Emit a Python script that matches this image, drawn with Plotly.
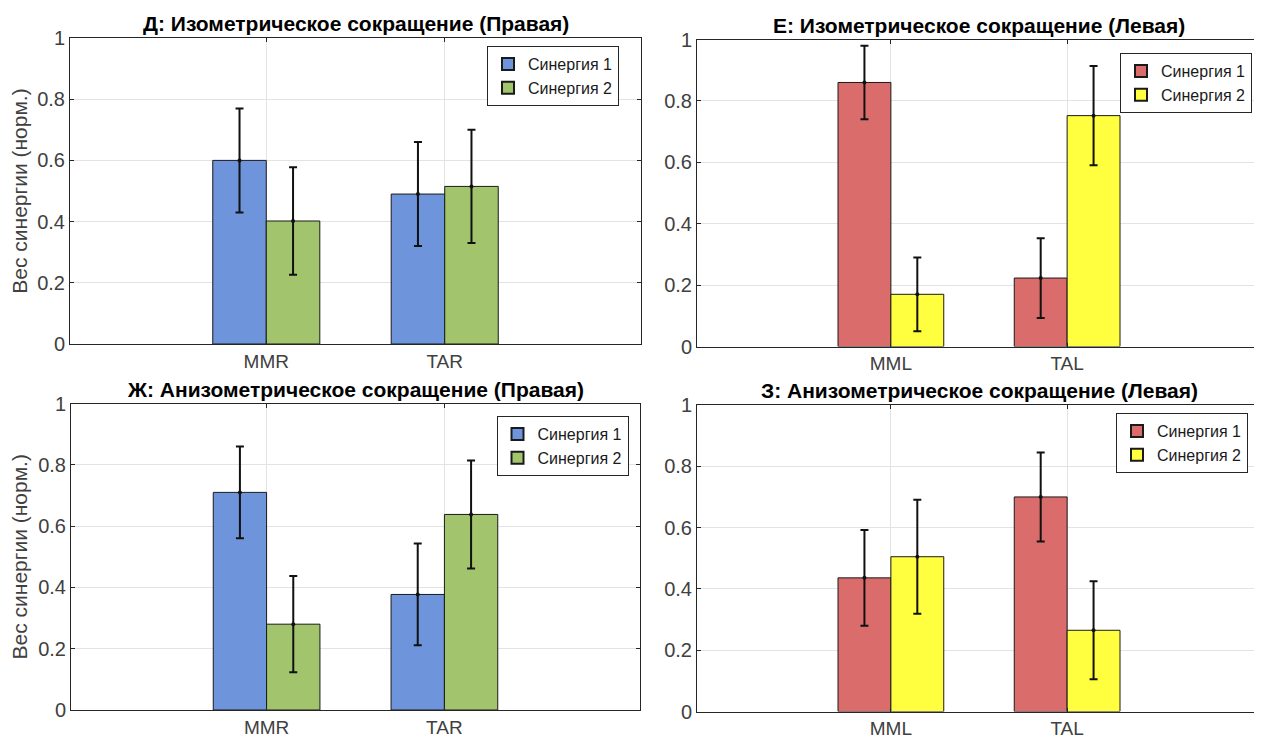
import plotly.graph_objects as go

# ---- data ----
cats_right = ["MMR", "TAR"]
cats_left = ["MML", "TAL"]
series_names = ["Синергия 1", "Синергия 2"]

titles = [
    "Д: Изометрическое сокращение (Правая)",
    "Е: Изометрическое сокращение (Левая)",
    "Ж: Анизометрическое сокращение (Правая)",
    "З: Анизометрическое сокращение (Левая)",
]

# panel Д
d_s1 = [0.600, 0.490]
d_s1_err = [0.170, 0.170]
d_s2 = [0.402, 0.515]
d_s2_err = [0.176, 0.185]
# panel Е
e_s1 = [0.860, 0.223]
e_s1_err = [0.120, 0.130]
e_s2 = [0.170, 0.752]
e_s2_err = [0.120, 0.162]
# panel Ж
zh_s1 = [0.710, 0.377]
zh_s1_err = [0.150, 0.166]
zh_s2 = [0.280, 0.638]
zh_s2_err = [0.157, 0.176]
# panel З
z_s1 = [0.436, 0.700]
z_s1_err = [0.156, 0.145]
z_s2 = [0.505, 0.265]
z_s2_err = [0.186, 0.160]

y_label = "Вес синергии (норм.)"

blue, green = "rgb(110,148,220)", "rgb(161,196,108)"
red, yellow = "rgb(218,108,108)", "rgb(255,255,64)"

# figure size compensating the 8px page margin
OFF = 8
W, H = 1262 - OFF, 740 - OFF


def xdom(a, b):
    return [(a - OFF) / W, (b - OFF) / W]


def ydom(top, bottom):
    return [1 - (bottom - OFF) / H, 1 - (top - OFF) / H]


panels = [
    dict(cats=cats_right, s=[d_s1, d_s2], e=[d_s1_err, d_s2_err], col=[blue, green],
         xd=xdom(70, 641), yd=ydom(38, 344), leg=(619, 46)),
    dict(cats=cats_left, s=[e_s1, e_s2], e=[e_s1_err, e_s2_err], col=[red, yellow],
         xd=xdom(697, 1261), yd=ydom(39.5, 346.5), leg=(1252, 53)),
    dict(cats=cats_right, s=[zh_s1, zh_s2], e=[zh_s1_err, zh_s2_err], col=[blue, green],
         xd=xdom(71, 640), yd=ydom(403.5, 710), leg=(628.5, 416)),
    dict(cats=cats_left, s=[z_s1, z_s2], e=[z_s1_err, z_s2_err], col=[red, yellow],
         xd=xdom(697, 1261), yd=ydom(405, 711.5), leg=(1248, 413)),
]

FONT = "Liberation Sans, Arial, sans-serif"
fig = go.Figure()
layout = dict(
    width=W, height=H, margin=dict(l=0, r=0, t=0, b=0, autoexpand=False),
    paper_bgcolor="white", plot_bgcolor="white", template="none",
    barmode="group", bargap=0.4, bargroupgap=0.0,
    scattermode="group", scattergap=0.4,
    font=dict(family=FONT, size=15, color="#404040"),
    annotations=[],
)

for i, p in enumerate(panels):
    n = "" if i == 0 else str(i + 1)
    xa, ya = "x" + n, "y" + n
    leg = "legend" + n
    pos = list(range(1, len(p["cats"]) + 1))
    for k in range(2):
        fig.add_trace(go.Bar(
            x=pos, y=p["s"][k], name=series_names[k], xaxis=xa, yaxis=ya,
            marker=dict(color=p["col"][k], line=dict(color="#1a1a1a", width=1)),
            error_y=dict(type="data", array=p["e"][k], color="#111111", thickness=2, width=4),
            offsetgroup=str(k), legend=leg, showlegend=True,
        ))
    for k in range(2):
        fig.add_trace(go.Scatter(
            x=pos, y=p["s"][k], mode="markers", xaxis=xa, yaxis=ya,
            marker=dict(color="#111111", size=4), offsetgroup=str(k),
            showlegend=False, hoverinfo="skip",
        ))
    layout["xaxis" + n] = dict(
        domain=p["xd"], anchor=ya, range=[-0.1, 3.1], tickvals=pos, ticktext=p["cats"],
        showgrid=True, gridcolor="#e3e3e3", gridwidth=1, zeroline=False,
        showline=True, linecolor="#262626", linewidth=1, mirror="ticks",
        ticks="inside", ticklen=4, tickcolor="#262626", automargin=False,
        tickfont=dict(family=FONT, size=19, color="#404040"),
    )
    layout["yaxis" + n] = dict(
        domain=p["yd"], anchor=xa, range=[0, 1], tickvals=[0, 0.2, 0.4, 0.6, 0.8, 1],
        ticktext=["0", "0.2", "0.4", "0.6", "0.8", "1"],
        showgrid=True, gridcolor="#e3e3e3", gridwidth=1, zeroline=False,
        showline=True, linecolor="#262626", linewidth=1, mirror="ticks",
        ticks="inside", ticklen=4, tickcolor="#262626", automargin=False,
        tickfont=dict(family=FONT, size=20, color="#404040"),
        title=dict(text=y_label if i % 2 == 0 else "",
                   font=dict(family=FONT, size=21, color="#404040")),
    )
    lx, ly = p["leg"]
    layout[leg] = dict(
        x=(lx - OFF) / W, y=1 - (ly - OFF) / H, xanchor="right", yanchor="top",
        xref="paper", yref="paper",
        bgcolor="white", bordercolor="#262626", borderwidth=1,
        font=dict(family=FONT, size=16, color="#1a1a1a"),
        tracegroupgap=0, itemwidth=30, itemsizing="constant",
    )
    layout["annotations"].append(dict(
        text="<b>" + titles[i] + "</b>", x=(p["xd"][0] + p["xd"][1]) / 2, y=p["yd"][1],
        xref="paper", yref="paper", xanchor="center", yanchor="bottom", yshift=1,
        showarrow=False, font=dict(family=FONT, size=21, color="#000000"),
    ))

fig.update_layout(**layout)
fig.write_html("out.html")
